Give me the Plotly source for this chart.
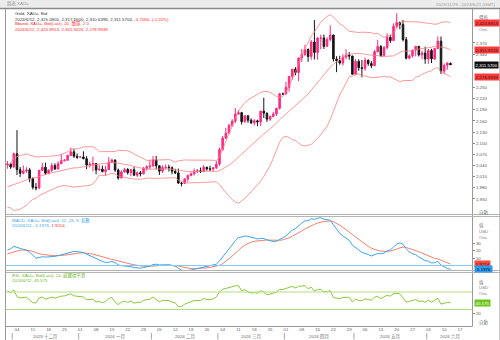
import pandas as pd
import plotly.graph_objects as go

W, H = 500, 340

FIRST_DAY = "2023-11-29"
LAST_DAY = "2024-06-12"
VIEW_END_DAY = "2024-06-21"

# Gold (XAU=) daily bid OHLC, one value per weekday, week by week
opens = [
    2041.5, 2044.3, 2036.0,
    2071.8, 2029.0, 2019.0, 2025.5, 2028.3,
    2004.5, 1981.5, 1979.9, 2026.9, 2035.5,
    2019.5, 2027.5, 2040.0, 2031.0, 2045.0,
    2053.0, 2054.5, 2067.0, 2077.0, 2065.0,
    2062.5, 2063.0, 2058.5, 2041.5, 2043.5,
    2045.5, 2028.0, 2030.5, 2024.0, 2029.0,
    2049.0, 2055.0, 2028.0, 2006.5, 2023.0,
    2029.5, 2021.0, 2029.0, 2014.0, 2020.5,
    2018.0, 2032.5, 2036.5, 2039.0, 2055.0,
    2039.5, 2025.0, 2035.0, 2035.5, 2034.0,
    2024.5, 2020.0, 1993.0, 1992.0, 2004.0,
    2013.0, 2018.0, 2025.0, 2026.0, 2024.0,
    2035.5, 2031.0, 2030.5, 2034.0, 2044.0,
    2083.0, 2114.0, 2127.5, 2148.0, 2159.5,
    2178.5, 2182.5, 2158.0, 2174.0, 2162.0,
    2155.0, 2160.5, 2157.5, 2186.5, 2181.0,
    2165.0, 2172.0, 2179.0, 2194.0, 2233.0,
    2232.5, 2250.5, 2280.0, 2299.5, 2290.5,
    2329.5, 2339.0, 2352.5, 2333.5, 2372.5,
    2344.5, 2383.0, 2383.5, 2361.0, 2379.0,
    2391.5, 2327.0, 2322.0, 2316.0, 2332.0,
    2337.5, 2335.0, 2286.0, 2320.5, 2303.5,
    2301.5, 2323.5, 2314.5, 2309.0, 2346.5,
    2360.5, 2336.0, 2357.5, 2385.5, 2376.5,
    2415.0, 2425.0, 2420.0, 2379.0, 2329.0,
    2335.5, 2351.0, 2361.0, 2338.0, 2343.0,
    2327.0, 2350.0, 2327.0, 2355.0, 2375.0,
    2294.0, 2310.0, 2315.08,
]
highs = [
    2052.0, 2047.5, 2075.0,
    2135.4, 2036.0, 2040.5, 2035.5, 2033.6,
    2008.0, 1993.0, 2029.0, 2047.5, 2048.0,
    2029.5, 2047.0, 2046.0, 2051.5, 2071.0,
    2057.5, 2069.5, 2088.5, 2084.0, 2072.5,
    2065.0, 2078.5, 2065.5, 2050.5, 2064.0,
    2046.5, 2041.0, 2040.0, 2039.5, 2062.5,
    2058.5, 2056.0, 2032.0, 2027.5, 2034.0,
    2033.5, 2031.5, 2036.5, 2024.0, 2025.5,
    2036.5, 2041.0, 2056.0, 2065.5, 2066.0,
    2040.0, 2040.5, 2043.0, 2042.5, 2038.0,
    2031.5, 2032.0, 1995.5, 2006.0, 2016.0,
    2021.5, 2032.0, 2030.5, 2034.5, 2041.5,
    2037.0, 2039.5, 2036.0, 2052.0, 2088.5,
    2119.5, 2141.5, 2152.5, 2165.0, 2195.0,
    2189.5, 2184.5, 2175.0, 2175.0, 2167.0,
    2165.0, 2163.5, 2187.5, 2222.5, 2183.0,
    2175.5, 2184.5, 2195.5, 2236.0, 2236.5,
    2265.5, 2280.5, 2300.0, 2305.0, 2330.5,
    2354.0, 2365.0, 2355.5, 2378.0, 2431.5,
    2386.0, 2392.0, 2392.5, 2385.5, 2417.5,
    2392.0, 2334.5, 2335.5, 2340.0, 2353.0,
    2345.5, 2335.5, 2326.5, 2326.0, 2324.5,
    2331.0, 2326.0, 2321.5, 2351.5, 2378.5,
    2364.5, 2362.0, 2396.0, 2392.5, 2422.5,
    2450.0, 2427.5, 2432.0, 2386.0, 2339.5,
    2352.0, 2362.0, 2361.5, 2349.5, 2360.0,
    2354.0, 2354.5, 2357.0, 2388.0, 2387.5,
    2315.0, 2318.0, 2317.66,
]
lows = [
    2031.5, 2031.0, 2034.0,
    2014.5, 2009.3, 2016.5, 2020.5, 1995.0,
    1975.6, 1973.3, 1976.5, 2025.5, 2015.0,
    2016.5, 2022.0, 2028.5, 2029.0, 2045.0,
    2051.0, 2052.5, 2065.5, 2061.0, 2058.0,
    2061.0, 2057.0, 2030.5, 2035.0, 2024.0,
    2016.5, 2026.0, 2021.5, 2013.5, 2028.0,
    2047.0, 2023.0, 2001.8, 2005.5, 2020.5,
    2016.0, 2011.0, 2013.0, 2009.5, 2011.0,
    2016.0, 2026.0, 2030.5, 2035.5, 2030.0,
    2014.5, 2020.0, 2030.0, 2024.0, 2016.5,
    2017.0, 1990.5, 1984.0, 1990.0, 1996.5,
    2011.0, 2013.0, 2019.5, 2020.0, 2022.0,
    2026.0, 2025.0, 2025.0, 2030.5, 2039.0,
    2079.0, 2111.0, 2125.5, 2144.0, 2155.0,
    2176.0, 2150.5, 2155.5, 2155.0, 2152.0,
    2148.0, 2146.0, 2146.5, 2168.0, 2157.5,
    2160.0, 2170.0, 2173.5, 2191.0, 2230.0,
    2232.0, 2239.0, 2271.0, 2283.0, 2267.5,
    2318.5, 2335.0, 2319.5, 2325.0, 2325.5,
    2325.0, 2353.0, 2354.0, 2360.0, 2374.0,
    2320.0, 2291.5, 2311.5, 2309.0, 2326.0,
    2325.0, 2285.0, 2285.0, 2295.0, 2277.5,
    2295.0, 2308.5, 2302.5, 2307.5, 2344.0,
    2332.5, 2335.5, 2353.0, 2370.0, 2375.0,
    2410.0, 2407.0, 2374.0, 2326.0, 2326.0,
    2331.0, 2334.0, 2333.5, 2326.0, 2314.0,
    2314.0, 2316.0, 2324.0, 2353.0, 2286.5,
    2286.0, 2298.0, 2310.6395,
]
closes = [
    2044.3, 2036.0, 2071.8,
    2029.0, 2019.0, 2025.5, 2028.3, 2004.5,
    1981.5, 1979.9, 2026.9, 2035.5, 2019.5,
    2027.5, 2040.0, 2031.0, 2045.0, 2053.0,
    2054.5, 2067.0, 2077.0, 2065.0, 2062.5,
    2063.0, 2058.5, 2041.5, 2043.5, 2045.5,
    2028.0, 2030.5, 2024.0, 2029.0, 2049.0,
    2055.0, 2028.0, 2006.5, 2023.0, 2029.5,
    2021.0, 2029.0, 2014.0, 2020.5, 2018.0,
    2032.5, 2036.5, 2039.0, 2055.0, 2039.5,
    2025.0, 2035.0, 2035.5, 2034.0, 2024.5,
    2020.0, 1993.0, 1992.0, 2004.0, 2013.0,
    2018.0, 2025.0, 2026.0, 2024.0, 2035.5,
    2031.0, 2030.5, 2034.0, 2044.0, 2083.0,
    2114.0, 2127.5, 2148.0, 2159.5, 2178.5,
    2182.5, 2158.0, 2174.0, 2162.0, 2155.0,
    2160.5, 2157.5, 2186.5, 2181.0, 2165.0,
    2172.0, 2179.0, 2194.0, 2233.0, 2232.5,
    2250.5, 2280.0, 2299.5, 2290.5, 2329.5,
    2339.0, 2352.5, 2333.5, 2372.5, 2344.5,
    2383.0, 2383.5, 2361.0, 2379.0, 2391.5,
    2327.0, 2322.0, 2316.0, 2332.0, 2337.5,
    2335.0, 2286.0, 2320.5, 2303.5, 2301.5,
    2323.5, 2314.5, 2309.0, 2346.5, 2360.5,
    2336.0, 2357.5, 2385.5, 2376.5, 2415.0,
    2425.0, 2420.0, 2379.0, 2329.0, 2335.5,
    2351.0, 2361.0, 2338.0, 2343.0, 2327.0,
    2350.0, 2327.0, 2355.0, 2375.0, 2294.0,
    2310.0, 2316.28, 2311.57,
]

# Closes from September to late November 2023, used only to seed the indicators
prior_closes = [
    1940, 1939, 1926, 1916, 1919, 1919, 1922, 1913, 1908, 1910, 1924,
    1934, 1931, 1930, 1920, 1925, 1915, 1901, 1874, 1864, 1849,
    1827, 1822, 1822, 1820, 1833, 1862, 1861, 1874, 1868, 1932, 1919,
    1923, 1947, 1974, 1981, 1973, 1971, 1980, 1985, 2006, 1996, 1983,
    1983, 1985, 1992, 1977, 1969, 1950, 1958, 1940, 1946, 1963, 1959,
    1981, 1981, 1978, 1998, 1990, 1992, 2002, 2014, 2042,
]

# Values quoted in the pane headers for the last session
LAST_QUOTE = ["2024/6/12", "2,315.0800", "2,317.6600", "2,310.6395", "2,311.5700"]
LAST_CHANGE = "-4.7056, (-0.20%)"
BB_LAST = [2424.8913, 2351.9226, 2278.9939]
MACD_LAST = -5.1976
SIGNAL_LAST = 1.9214
RSI_LAST = 45.575

PRICE_TICKS = [1950, 1980, 2010, 2040, 2070, 2100, 2130, 2160, 2190, 2220, 2250, 2340, 2370]
MACD_TICKS = [10, 20, 30]
RSI_TICKS = [20]
RSI_LEVELS = [70, 30]
MONTH_LABELS = ["2023 十二月", "2024 一月", "2024 二月", "2024 三月", "2024 四月", "2024 五月", "2024 六月"]

# ---------------------------------------------------------------- indicators
dates = pd.bdate_range(FIRST_DAY, LAST_DAY)
n = len(dates)
assert n == len(opens) == len(highs) == len(lows) == len(closes)
xs = list(range(n))

hist = pd.Series(prior_closes + closes, dtype=float)
k = len(prior_closes)
mid = hist.rolling(20).mean()
sd = hist.rolling(20).std(ddof=0)
bb_upper = (mid + 2 * sd).iloc[k:].reset_index(drop=True)
bb_mid = mid.iloc[k:].reset_index(drop=True)
bb_lower = (mid - 2 * sd).iloc[k:].reset_index(drop=True)

ema12 = hist.ewm(span=12, adjust=False).mean()
ema26 = hist.ewm(span=26, adjust=False).mean()
macd_full = ema12 - ema26
signal_full = macd_full.ewm(span=9, adjust=False).mean()
macd = macd_full.iloc[k:].reset_index(drop=True)
signal = signal_full.iloc[k:].reset_index(drop=True)

delta = hist.diff()
gain = delta.clip(lower=0).ewm(alpha=1 / 14, adjust=False).mean()
loss = (-delta.clip(upper=0)).ewm(alpha=1 / 14, adjust=False).mean()
rsi = (100 - 100 / (1 + gain / loss)).iloc[k:].reset_index(drop=True)

# the last session uses the figures quoted in the headers
bb_upper.iloc[-1], bb_mid.iloc[-1], bb_lower.iloc[-1] = BB_LAST
macd.iloc[-1] = MACD_LAST
signal.iloc[-1] = SIGNAL_LAST
rsi.iloc[-1] = RSI_LAST

# ---------------------------------------------------------------- layout helpers
def px(v):
    return v / W


def py(v):
    return 1 - v / H


FONT = "Liberation Sans, Arial, Noto Sans CJK TC, sans-serif"
FS = 4.4
UP = "#ff2a80"
DOWN = "#151515"
BB_COLOR = "#ff7f7f"
MACD_COLOR = "#3aa6ef"
SIGNAL_COLOR = "#f3806f"
RSI_COLOR = "#8bc83a"
RSI_LEVEL_COLOR = "#b3de83"
ZERO_COLOR = "#86c9f5"
RED_TEXT = "#ff2b2b"
GRID_GRAY = "#9a9a9a"

view_days = pd.bdate_range(FIRST_DAY, VIEW_END_DAY)
X_RANGE = [-0.47, 146.8]

X_DOMAIN = [px(6), px(472)]
MAIN_DOMAIN = [py(215), py(9)]
MACD_DOMAIN = [py(271), py(216)]
RSI_DOMAIN = [py(326), py(272)]

fig = go.Figure()

fig.add_trace(go.Candlestick(
    x=xs, open=opens, high=highs, low=lows, close=closes,
    increasing=dict(line=dict(color=UP, width=1), fillcolor=UP),
    decreasing=dict(line=dict(color=DOWN, width=1), fillcolor=DOWN),
    whiskerwidth=0, xaxis="x", yaxis="y", showlegend=False,
))
for band in (bb_upper, bb_mid, bb_lower):
    fig.add_trace(go.Scatter(x=xs, y=band, mode="lines", line=dict(color=BB_COLOR, width=0.8),
                             xaxis="x", yaxis="y", showlegend=False))

fig.add_trace(go.Scatter(x=xs, y=signal, mode="lines", line=dict(color=SIGNAL_COLOR, width=1),
                         xaxis="x2", yaxis="y2", showlegend=False))
fig.add_trace(go.Scatter(x=xs, y=macd, mode="lines", line=dict(color=MACD_COLOR, width=1),
                         xaxis="x2", yaxis="y2", showlegend=False))

fig.add_trace(go.Scatter(x=xs, y=rsi, mode="lines", line=dict(color=RSI_COLOR, width=1),
                         xaxis="x3", yaxis="y3", showlegend=False))

common_x = dict(range=X_RANGE, domain=X_DOMAIN, showgrid=False, zeroline=False,
                showline=False, ticks="", fixedrange=True)

monday_idx = [i for i, d in enumerate(view_days) if d.weekday() == 0]
day_text = [f"{view_days[i].day:02d}" for i in monday_idx]

tick_font = dict(family=FONT, size=FS, color="#555555")
common_y = dict(side="right", showgrid=False, zeroline=False, showline=False,
                ticks="outside", ticklen=2, tickcolor="#8a8a8a", tickfont=tick_font,
                fixedrange=True)

fig.update_layout(
    width=W, height=H,
    margin=dict(l=0, r=0, t=0, b=0),
    paper_bgcolor="white", plot_bgcolor="white",
    font=dict(family=FONT, size=FS, color="#333333"),
    xaxis={**common_x, "anchor": "y", "showticklabels": False, "rangeslider": dict(visible=False)},
    xaxis2={**common_x, "anchor": "y2", "showticklabels": False},
    xaxis3={**common_x, "anchor": "y3", "showticklabels": True, "tickvals": monday_idx,
            "ticktext": day_text, "tickfont": dict(family=FONT, size=FS, color="#666666")},
    yaxis={**common_y, "anchor": "x", "domain": MAIN_DOMAIN, "range": [1906.9, 2461.5],
           "tickvals": PRICE_TICKS, "tickformat": ",d"},
    yaxis2={**common_y, "anchor": "x2", "domain": MACD_DOMAIN, "range": [-7.33, 66.0],
            "tickvals": MACD_TICKS},
    yaxis3={**common_y, "anchor": "x3", "domain": RSI_DOMAIN, "range": [-7.7, 115.7],
            "tickvals": RSI_TICKS},
)

shapes = []


def hline(y, x0, x1, color, width=1):
    shapes.append(dict(type="line", xref="paper", yref="paper", x0=px(x0), x1=px(x1),
                       y0=py(y), y1=py(y), line=dict(color=color, width=width)))


def vline(x, y0, y1, color, width=1):
    shapes.append(dict(type="line", xref="paper", yref="paper", x0=px(x), x1=px(x),
                       y0=py(y0), y1=py(y1), line=dict(color=color, width=width)))


# title strip
shapes.append(dict(type="rect", xref="paper", yref="paper", x0=0, x1=1, y0=py(8), y1=1,
                   fillcolor="#ececec", line=dict(width=0), layer="below"))
hline(8.5, 0, 500, "#8a8a8a", 1.5)
# frame and pane separators
vline(5.5, 9, 340, GRID_GRAY)
vline(472.5, 9, 326.5, GRID_GRAY)
vline(499.5, 9, 340, "#c8c8c8")
for y in (214.5, 216.5, 270.5, 272.5):
    hline(y, 5.5, 500, "#b4b4b4")
hline(326.5, 5.5, 472.5, GRID_GRAY)

# MACD zero line and RSI bounds
shapes.append(dict(type="line", xref="x2 domain", yref="y2", x0=0, x1=1, y0=0, y1=0,
                   line=dict(color=ZERO_COLOR, width=1.2)))
for lvl in RSI_LEVELS:
    shapes.append(dict(type="line", xref="x3 domain", yref="y3", x0=0, x1=1, y0=lvl, y1=lvl,
                       line=dict(color=RSI_LEVEL_COLOR, width=1.1)))

# month row: separators and centred labels
month_groups = pd.Series(range(len(view_days)), index=view_days).groupby(view_days.to_period("M"))
month_spans = [(g.iloc[0], g.iloc[-1]) for _, g in month_groups]
month_spans = [s for s in month_spans if s[1] - s[0] > 5]
annotations = []
for (a, b), label in zip(month_spans, MONTH_LABELS):
    shapes.append(dict(type="line", xref="x3", yref="paper", x0=a - 0.5, x1=a - 0.5,
                       y0=py(333), y1=py(339.5), line=dict(color="#a8a8a8", width=1)))
    centre = (a + min(b, X_RANGE[1])) / 2
    annotations.append(dict(x=centre, xref="x3", y=py(336.5), yref="paper", text=label,
                            showarrow=False, xanchor="center", yanchor="middle",
                            font=dict(family=FONT, size=FS, color="#666666")))


def note(x, y, text, color="#333333", anchor="left", size=FS):
    annotations.append(dict(x=px(x), xref="paper", y=py(y), yref="paper", text=text,
                            showarrow=False, xanchor=anchor, yanchor="middle",
                            font=dict(family=FONT, size=size, color=color)))


def tag(text, yref, value, bg, fg):
    annotations.append(dict(x=px(473.5), xref="paper", y=value, yref=yref, text=text,
                            showarrow=False, xanchor="left", yanchor="middle",
                            bgcolor=bg, borderpad=0.6,
                            font=dict(family=FONT, size=FS, color=fg)))


note(5, 4, "圖表 XAU=", "#9a9a9a")
note(498, 4.5, "2023/11/29 - 2024/6/21 (GMT)", "#a0a0a0", anchor="right")

# price pane header
note(13, 14, "Gold, XAU=, Bid")
note(13, 19, ", ".join(LAST_QUOTE) + f", <span style='color:{RED_TEXT}'>{LAST_CHANGE}</span>")
note(13, 24, "Bband, XAU=, Bid(Last), 20, 簡單, 2.0", RED_TEXT)
note(13, 29, "2024/6/12, " + ", ".join(f"{v:,.4f}" for v in BB_LAST), RED_TEXT)

# MACD pane header
note(10, 220, "MACD, XAU=, Bid(Last), 12, 26, 9, 指數", MACD_COLOR)
note(10, 225, f"2024/6/12, {MACD_LAST:.4f}, <span style='color:{RED_TEXT}'>{SIGNAL_LAST:.4f}</span>",
     MACD_COLOR)

# RSI pane header
note(10, 275, "RSI, XAU=, Bid(Last), 14, 威爾德平滑", "#6cb82a")
note(10, 280, f"2024/6/12, {RSI_LAST:.3f}", "#6cb82a")

# unit captions on the value scale
for y, t in ((17, "價格"), (29, "Ons"), (212, "自動"),
             (225, "值"), (231, "USD"), (237, "Ons"),
             (282, "值"), (287, "USD"), (293, "Ons"), (322, "自動")):
    note(477, y, t, "#7a7a7a")

# last-value tags on the right scale
tag(f"{BB_LAST[0]:,.4f}", "y", BB_LAST[0], "#ff3a3a", "#1a1a1a")
tag(f"{BB_LAST[1]:,.4f}", "y", BB_LAST[1], "#ff3a3a", "#1a1a1a")
tag(f"{closes[-1]:,.4f}", "y", closes[-1], "#111111", "#ffffff")
tag(f"{BB_LAST[2]:,.4f}", "y", BB_LAST[2], "#ff3a3a", "#1a1a1a")
tag(f"{SIGNAL_LAST:.4f}", "y2", SIGNAL_LAST, "#ff4a3a", "#1a1a1a")
tag(f"{MACD_LAST:.4f}", "y2", MACD_LAST, "#2e9cf0", "#0a0a0a")
tag(f"{RSI_LAST:.3f}", "y3", RSI_LAST, "#6cc51c", "#ffffff")

fig.update_layout(shapes=shapes, annotations=annotations)

fig.write_html("out.html")
